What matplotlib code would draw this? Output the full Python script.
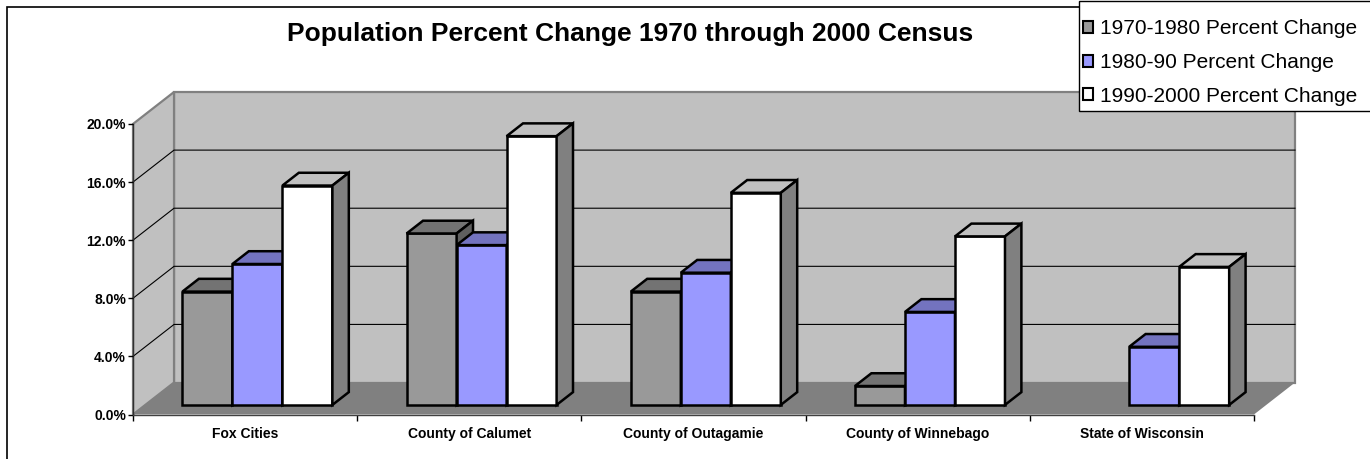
import matplotlib
matplotlib.use('Agg')
import matplotlib.pyplot as plt
from matplotlib.patches import Polygon, Rectangle, Patch
import numpy as np

# ---------------- data ----------------
categories = ['Fox Cities', 'County of Calumet', 'County of Outagamie',
              'County of Winnebago', 'State of Wisconsin']
series_names = ['1970-1980 Percent Change', '1980-90 Percent Change',
                '1990-2000 Percent Change']
change_1970_80 = [7.8, 11.8, 7.8, 1.3, np.nan]
change_1980_90 = [9.7, 11.0, 9.1, 6.4, 4.0]
change_1990_00 = [15.1, 18.5, 14.6, 11.6, 9.5]
y_ticks = [0, 4, 8, 12, 16, 20]
title = 'Population Percent Change 1970 through 2000 Census'

series_values = [change_1970_80, change_1980_90, change_1990_00]
front_colors = ['#999999', '#9999FF', '#FFFFFF']
top_colors = ['#737373', '#7373BF', '#C0C0C0']
side_colors = ['#5F5F5F', '#4D4D80', '#808080']

plt.rcParams['font.family'] = ['Liberation Sans', 'DejaVu Sans']

W_PX, H_PX = 1370, 459
fig = plt.figure(figsize=(W_PX / 100, H_PX / 100), dpi=100)

# 3D-look geometry (depth offsets in data units)
DX, DY = 0.183, 2.2
ZF, BD = 0.30, 0.40      # bar front depth, bar depth
BW = 0.223               # bar width (category units)
n_cat = len(categories)
ymax = y_ticks[-1]

ax = fig.add_axes([133 / W_PX, (H_PX - 414.5) / H_PX,
                   (1295 - 133) / W_PX, (414.5 - 92) / H_PX])
ax.set_xlim(0, n_cat + DX)
ax.set_ylim(0, ymax + DY)
ax.patch.set_visible(False)

# walls and floor
ax.add_patch(Polygon([(DX, DY), (n_cat + DX, DY), (n_cat + DX, ymax + DY), (DX, ymax + DY)],
                     closed=True, fc='#C0C0C0', ec='#808080', lw=1.6, zorder=0.5, clip_on=False))
ax.add_patch(Polygon([(0, 0), (DX, DY), (DX, ymax + DY), (0, ymax)],
                     closed=True, fc='#C0C0C0', ec='#808080', lw=1.6, zorder=0.6, clip_on=False))
ax.add_patch(Polygon([(0, 0), (n_cat, 0), (n_cat + DX, DY), (DX, DY)],
                     closed=True, fc='#808080', ec='none', zorder=0.7, clip_on=False))

# gridlines on side and back walls
for v in y_ticks[1:-1]:
    ax.plot([0, DX, n_cat + DX], [v, v + DY, v + DY], color='black', lw=0.8,
            zorder=0.8, clip_on=False)

# bars
k = 0
for i in range(n_cat):
    for j, vals in enumerate(series_values):
        v = vals[i]
        k += 1
        if np.isnan(v):
            continue
        z = 3 + k * 0.01
        x0 = i + 0.5 - 1.5 * BW + j * BW + ZF * DX
        yb = ZF * DY
        ax.bar([x0], [v], width=BW, bottom=yb, align='edge', color=front_colors[j],
               edgecolor='black', linewidth=1.8, zorder=z, clip_on=False)
        top = [(x0, yb + v), (x0 + BW, yb + v),
               (x0 + BW + BD * DX, yb + v + BD * DY), (x0 + BD * DX, yb + v + BD * DY)]
        ax.add_patch(Polygon(top, closed=True, fc=top_colors[j], ec='black', lw=1.8,
                             zorder=z + 0.003, clip_on=False))
        side = [(x0 + BW, yb), (x0 + BW + BD * DX, yb + BD * DY),
                (x0 + BW + BD * DX, yb + BD * DY + v), (x0 + BW, yb + v)]
        ax.add_patch(Polygon(side, closed=True, fc=side_colors[j], ec='black', lw=1.8,
                             zorder=z + 0.006, clip_on=False))

# axes / ticks
for s in ['top', 'right']:
    ax.spines[s].set_visible(False)
ax.spines['left'].set_bounds(0, ymax)
ax.spines['bottom'].set_bounds(0, n_cat)
ax.spines['left'].set_color('#303030')
ax.spines['bottom'].set_color('#404040')
ax.spines['left'].set_linewidth(1.0)
ax.spines['bottom'].set_linewidth(1.0)
ax.spines['left'].set_zorder(0.9)

ax.set_yticks(y_ticks)
ax.set_yticklabels([f'{v:.1f}%' for v in y_ticks], fontsize=10, fontweight='bold')
ax.tick_params(axis='y', direction='out', length=3.6, width=1, pad=1.5)

ax.set_xticks(range(n_cat + 1))
ax.set_xticklabels([''] * (n_cat + 1))
ax.tick_params(axis='x', which='major', direction='out', length=4.3, width=1)
ax.set_xticks([i + 0.5 for i in range(n_cat)], minor=True)
ax.set_xticklabels(categories, minor=True, fontsize=10, fontweight='bold')
ax.tick_params(axis='x', which='minor', length=0, pad=9)

# title
fig.text(630 / W_PX, 1 - 40.7 / H_PX, title, ha='center', va='baseline',
         fontsize=19, fontweight='bold')

# chart border
fig.add_artist(Rectangle((7 / W_PX, -0.05), 1.1, (1 - 7 / H_PX) + 0.05,
                         transform=fig.transFigure, fill=False, ec='black', lw=1.2))

# legend box
fig.add_artist(Rectangle((1079 / W_PX, 1 - 111 / H_PX), 0.3, 110 / H_PX,
                         transform=fig.transFigure, fc='white', ec='black', lw=1.0, zorder=5))
handles = [Patch(fc=c, ec='black', lw=1.5) for c in front_colors]
leg = fig.legend(handles, series_names, loc='upper left',
                 bbox_to_anchor=(1083 / W_PX, 1 - 19.5 / H_PX), bbox_transform=fig.transFigure,
                 frameon=False, borderpad=0, borderaxespad=0, handlelength=0.5,
                 handleheight=0.5, handletextpad=0.3, labelspacing=0.7,
                 prop={'size': 15})
leg.set_zorder(6)

fig.savefig('out.png', dpi=100)
